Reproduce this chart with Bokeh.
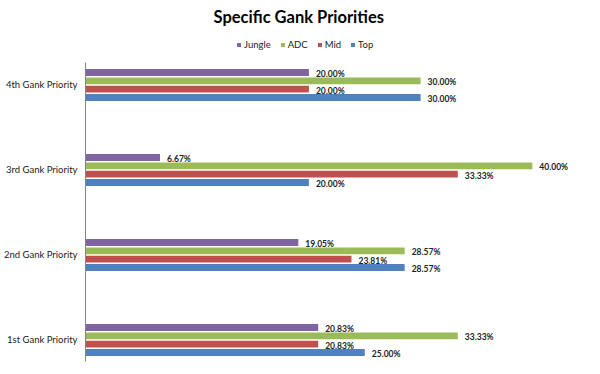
from bokeh.plotting import figure
from bokeh.models import Range1d, FixedTicker, Legend, LegendItem, ColumnDataSource
from bokeh.transform import dodge
from bokeh.core.properties import value
from bokeh.embed import file_html
from bokeh.resources import INLINE

categories = ["1st Gank Priority", "2nd Gank Priority", "3rd Gank Priority", "4th Gank Priority"]
series = ["Jungle", "ADC", "Mid", "Top"]
jungle = [20.83, 19.05, 6.67, 20.00]
adc = [33.33, 28.57, 40.00, 30.00]
mid = [20.83, 23.81, 33.33, 20.00]
top = [25.00, 28.57, 20.00, 30.00]
colors = ["#8064A2", "#9BBB59", "#C0504D", "#4F81BD"]

values = {"Jungle": jungle, "ADC": adc, "Mid": mid, "Top": top}
pos = list(range(len(categories)))
data = dict(pos=pos, cat=categories)
for s in series:
    data[s] = values[s]
    data[s + "_lbl"] = ["%.2f%%" % v for v in values[s]]
src = ColumnDataSource(data)

FONT = "Lato"
p = figure(width=584, height=358, frame_width=500, frame_height=331,
           x_range=Range1d(0, 44.76), y_range=Range1d(-0.253, 3.641),
           output_backend="svg", toolbar_location=None, x_axis_location=None,
           min_border_left=77, min_border_right=6, min_border_top=28, min_border_bottom=4)
p.background_fill_color = "white"
p.border_fill_color = "white"
p.outline_line_color = None
p.xgrid.visible = False
p.ygrid.visible = False

p.title.text = "Specific Gank Priorities"
p.title.text_font = FONT
p.title.text_font_size = "16.5px"
p.title.text_font_style = "bold"
p.title.text_color = "#000000"
p.title.align = "left"
p.title.offset = 128
p.title.standoff = 8

offsets = [0.147, 0.049, -0.049, -0.147]
bar_h = 0.08
items = []
for s, off, c in zip(series, offsets, colors):
    r = p.hbar(y=dodge("pos", off, range=p.y_range), left=0, right=s, height=bar_h,
               fill_color=c, line_color=None, source=src)
    p.text(x=s, y=dodge("pos", off, range=p.y_range), text=s + "_lbl", source=src,
           x_offset=7, y_offset=1.5, text_baseline="middle", text_align="left",
           text_font=value(FONT), text_font_size="8.5px", text_font_style="bold",
           text_color="#222222")
    items.append(LegendItem(label=s, renderers=[r]))

legend = Legend(items=items, orientation="horizontal", location=(151, 311),
                border_line_color=None, background_fill_alpha=0,
                padding=0, margin=0, spacing=9, label_standoff=3,
                glyph_width=5, glyph_height=5, label_height=10, label_width=1,
                label_text_font=FONT, label_text_font_size="9.5px", label_text_color="#222222")
p.add_layout(legend)

yax = p.yaxis[0]
yax.bounds = (-0.253, 3.26)
yax.ticker = FixedTicker(ticks=pos)
yax.major_label_overrides = {i: c for i, c in zip(pos, categories)}
yax.major_tick_line_color = None
yax.minor_tick_line_color = None
yax.major_tick_in = 0
yax.major_tick_out = 0
yax.major_label_standoff = 8
yax.axis_line_color = "#868686"
yax.major_label_text_font = FONT
yax.major_label_text_font_size = "9.5px"
yax.major_label_text_color = "#222222"

open("out.html", "w").write(file_html(p, INLINE))
